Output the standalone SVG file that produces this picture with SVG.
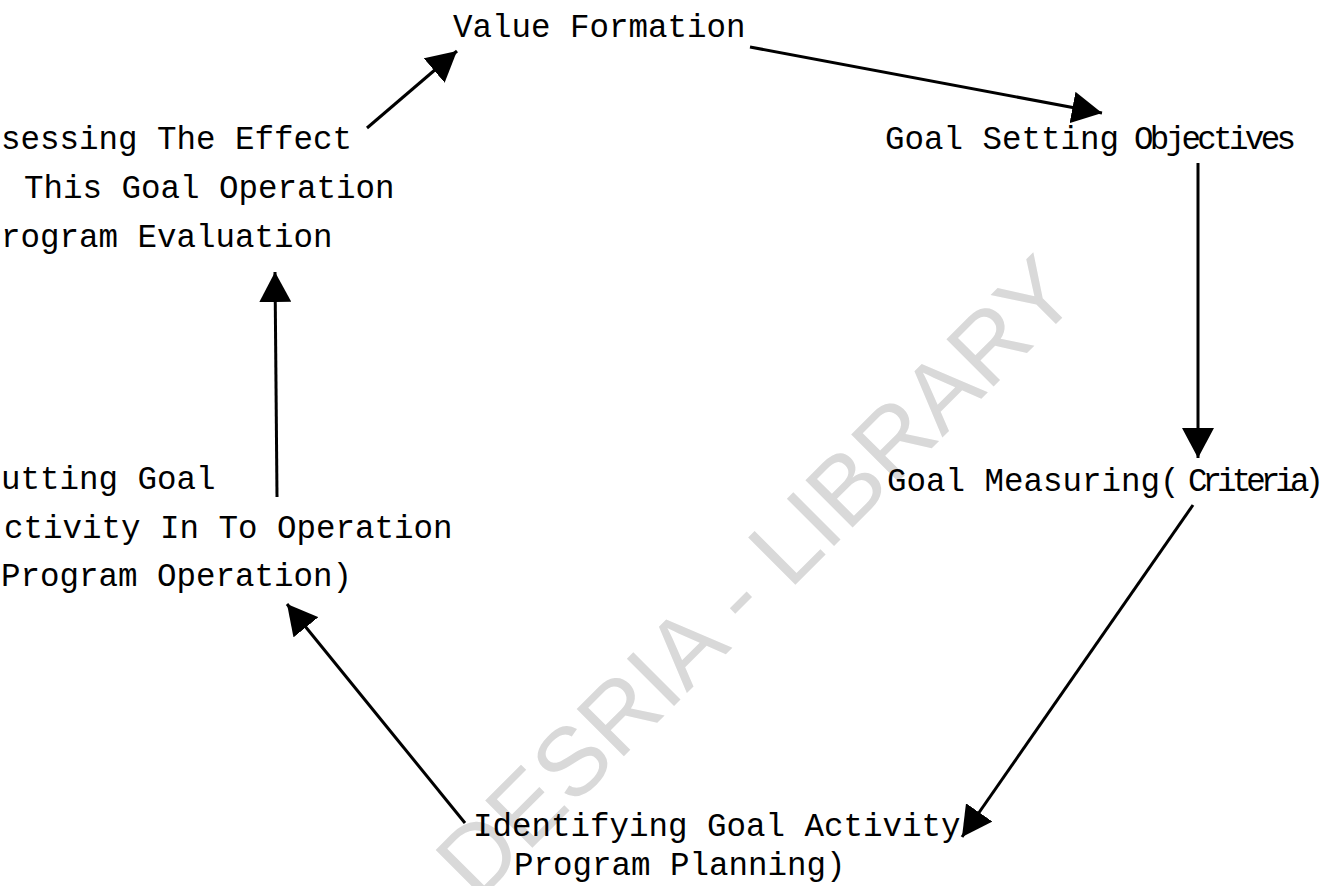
<svg xmlns="http://www.w3.org/2000/svg" width="1341" height="886" viewBox="0 0 1341 886">
  <style>
    .lbl { font-family: "Liberation Mono", "DejaVu Sans Mono", monospace; font-size: 32.5px; fill: #000; }
    .wm { font-family: "Liberation Sans", Arial, sans-serif; font-size: 97px; fill: #d9d9d9; }
    .conn { stroke: #000; stroke-width: 3; fill: none; marker-end: url(#head); }
  </style>
  <defs>
    <marker id="head" viewBox="0 0 10 10" refX="10" refY="5" markerUnits="userSpaceOnUse" markerWidth="30" markerHeight="32" orient="auto" preserveAspectRatio="none">
      <path d="M0,0 L10,5 L0,10 z" fill="#000"/>
    </marker>
  </defs>
  <rect x="0" y="0" width="1341" height="886" fill="#fff"/>

  <text class="wm" x="0" y="0" text-anchor="end" transform="translate(1082,298) rotate(-45)">DESRIA - LIBRARY</text>

  <g id="connectors">
    <line class="conn" x1="750" y1="47" x2="1102" y2="113"/>
    <line class="conn" x1="1198" y1="163" x2="1198" y2="458"/>
    <line class="conn" x1="1193" y1="505" x2="962" y2="837"/>
    <line class="conn" x1="465" y1="823" x2="287" y2="604"/>
    <line class="conn" x1="277" y1="497" x2="275" y2="272"/>
    <line class="conn" x1="367" y1="128" x2="457" y2="51"/>
  </g>

  <g id="value-formation">
    <text class="lbl" x="453" y="37">Value Formation</text>
  </g>
  <g id="goal-setting">
    <text class="lbl"><tspan x="885" y="149">Goal Setting </tspan><tspan x="1134" y="149" textLength="162" lengthAdjust="spacing">Objectives</tspan></text>
  </g>
  <g id="goal-measuring">
    <text class="lbl"><tspan x="887" y="491">Goal Measuring(</tspan><tspan x="1188" y="491" textLength="136" lengthAdjust="spacing">Criteria)</tspan></text>
  </g>
  <g id="identifying">
    <text class="lbl" x="473" y="836">Identifying Goal Activity</text>
    <text class="lbl" x="514" y="875">Program Planning)</text>
  </g>
  <g id="putting-goal">
    <text class="lbl" x="1" y="489">utting Goal</text>
    <text class="lbl" x="4" y="538">ctivity In To Operation</text>
    <text class="lbl" x="1" y="586">Program Operation)</text>
  </g>
  <g id="assessing">
    <text class="lbl" x="1" y="149">sessing The Effect</text>
    <text class="lbl" x="24" y="198">This Goal Operation</text>
    <text class="lbl" x="1" y="247">rogram Evaluation</text>
  </g>
</svg>
